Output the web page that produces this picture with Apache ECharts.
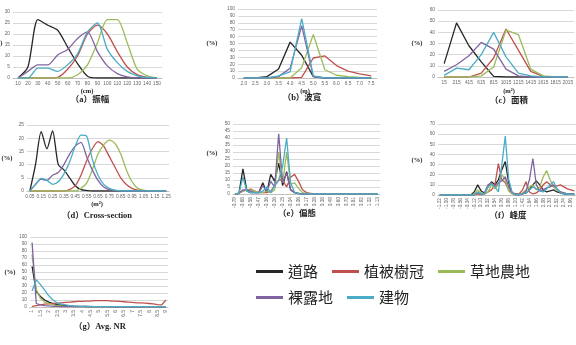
<!DOCTYPE html>
<html>
<head>
<meta charset="utf-8">
<script src="https://cdn.jsdelivr.net/npm/echarts@6/dist/echarts.min.js"></script>
<style>
  html, body { margin: 0; padding: 0; background: #fff; }
  #chart { width: 576px; height: 345px; }
</style>
</head>
<body>
<div id="chart"></div>
<script>
// class names + colours (excel-ish palette)
const names = ['道路', '植被樹冠', '草地農地', '裸露地', '建物']
const colors = ['#262626', '#c0504d', '#9bbb59', '#8064a2', '#4bacc6']

// (a) 振幅
const aCats = ['10','20','30','40','50','60','70','80','90','100','110','120','130','140','150']
const aRoad   = [0,5,26.5,24,21.7,14,6.5,0.8,0,0,0,0,0,0,0]
const aCanopy = [0,0,0,0,0.3,4,10,20,24,20,12,5,1.5,0.3,0]
const aGrass  = [0,0,0,0,0,0,1.5,6,16,26.5,26.5,16,4,1,0]
const aBare   = [0,3,6,6,10.5,13,18,21,12,5.5,2,0.5,0,0,0]
const aBuild  = [0,0,4.5,4.5,3,6,11,21,25,13,7,3,1,0.3,0]

// (b) 波寬
const bCats = ['2.0','2.5','3.0','3.5','4.0','4.5','5.0','5.5','6.0','6.5','7.0','7.5']
const bRoad   = [0,0,2,13,52,33,2,0,0,0,0,0]
const bCanopy = [0,0,0,0,0,1,29,32,18,10,6,3]
const bGrass  = [0,0,0,0,0,15,63,12,4,2,1,0]
const bBare   = [0,0,0,2,14,76,2,0,0,0,0,0]
const bBuild  = [0,0,0,3,9,86,3,0,0,0,0,0]

// (c) 面積
const cCats = ['15','215','415','615','815','1015','1215','1415','1615','1815','2015']
const cRoad   = [12,48.5,28,13.5,0.6,0,0,0,0,0,0]
const cCanopy = [0,0,0,3.5,17,43,24,5,0.5,0,0]
const cGrass  = [0,0,0,1,9,42,38,7,1,0,0]
const cBare   = [5,11,19,31,25,7,1,0,0,0,0]
const cBuild  = [1.5,8,6.5,20,40,18,3.5,1,0,0,0]

// (d) Cross-section
const dCats = ['0.05','0.10','0.15','0.20','0.25','0.30','0.35','0.40','0.45','0.50','0.55','0.60','0.65',
  '0.70','0.75','0.80','0.85','0.90','0.95','1.00','1.05','1.10','1.15','1.20','1.25']
const dRoad   = [0,10,22.5,16,22.8,10,8,5,2,0.5,0.2,0,0,0,0,0,0,0,0,0,0,0,0,0,0]
const dCanopy = [0,0,0,0,0,0,0,0.5,2,6,11.5,16,18.7,17,13,9,5,2.5,1,0.3,0,0,0,0,0]
const dGrass  = [0,0,0,0,0,0,0,0,0,1,3,8,14,17.5,19.3,18,14,8,3.5,1,0.3,0,0,0,0]
const dBare   = [0,2.5,4.5,4,6,7,10,14,17,18.4,13,8,4,1.5,0.5,0.2,0,0,0,0,0,0,0,0,0]
const dBuild  = [0,2.5,4.8,4,2.5,3.5,6.5,11,17,21.2,20.8,12,6,2.5,1,0.3,0,0,0,0,0,0,0,0,0]

// (e) 偏態
const eCats = ['-0.79','-0.74','-0.68','-0.63','-0.58','-0.52','-0.47','-0.42','-0.36','-0.31',
  '-0.26','-0.20','-0.15','-0.10','-0.04','0.01','0.06','0.12','0.17','0.22',
  '0.28','0.33','0.38','0.44','0.49','0.54','0.60','0.65','0.70','0.76',
  '0.81','0.86','0.92','0.97','1.02','1.08','1.13']
const eRoad   = [0,0.5,18,2,1,1,1,8,1,14,9,22,6,16,3,1,0.5,0,0,0,0,0,0,0,0,0,0,0,0,0,0,0,0,0,0,0,0]
const eCanopy = [0,0.5,2,3,3.5,2,1,1,1,2,6,10,10,5,12,14,9,3,1,0.5,0,0,0,0,0,0,0,0,0,0,0,0,0,0,0,0,0]
const eGrass  = [0,1,2,3,3,2,1,1,2,1,3,30,8,30,7,8,4,1,0.3,0,0,0,0,0,0,0,0,0,0,0,0,0,0,0,0,0,0]
const eBare   = [0,0.5,3,3,2,1,1,6,2,9,5,43,8,15,3,1,0.3,0,0,0,0,0,0,0,0,0,0,0,0,0,0,0,0,0,0,0,0]
const eBuild  = [0,0.5,12,2,1,1,1,2,5,1,6,10,20,40,8,1,0.3,0,0,0,0,0,0,0,0,0,0,0,0,0,0,0,0,0,0,0,0]

// (f) 峰度
const fCats = ['-1.22','-1.11','-1.00','-0.89','-0.78','-0.67','-0.56','-0.45','-0.34','-0.23',
  '-0.12','-0.01','0.10','0.21','0.32','0.43','0.54','0.65','0.76','0.87',
  '0.98','1.09','1.20','1.31','1.42','1.53','1.64','1.75','1.86','1.97',
  '2.08','2.19','2.30','2.41','2.52','2.63','2.74','2.85','2.96','3.07']
const fRoad   = [0,0,0,0,0,0,0,0,0,0,3,10,4,2,8,13,10,15,25,33,12,2,1,0.5,1,2,5,10,14,10,5,3,4,5,3,2,1,1,1,1]
const fCanopy = [0,0,0,0,0,0,0,0,0,0,0,1,0,1,3,5,10,31,15,12,5,2,0.5,1,5,13,3,1,2,5,10,13,10,8,9,10,8,6,5,4]
const fGrass  = [0,0,0,0,0,0,0,0,0,0,1,5,2,1,3,10,6,10,20,15,4,1,0,0.5,2,5,8,10,5,8,18,24,15,8,5,3,2,1,1,0.5]
const fBare   = [0,0,0,0,0,0,0,0,0,0,0,2,1,2,10,12,8,12,14,18,8,2,0,0,1,4,15,36,10,4,5,7,8,10,6,3,2,1,1,0.5]
const fBuild  = [0,0,0,0,0,0,0,0,0,0,0,3,1,1,8,11,8,3,30,58,15,2,0.5,0,1,2,5,8,6,4,3,6,10,13,6,2,1,1,0.5,0.5]

// (g) Avg. NR
const gCats = ['1','1.25','1.5','1.75','2','2.25','2.5','2.75','3','3.25','3.5','3.75','4','4.25','4.5','4.75',
  '5','5.25','5.5','5.75','6','6.25','6.5','6.75','7','7.25','7.5','7.75','8','8.25','8.5','8.75','9']
const gRoad   = [58,22,15,10,7,5,3.5,2.5,2,1.5,1.2,1,0.8,0.7,0.6,0.5,0.5,0.4,0.4,0.3,0.3,0.3,0.2,0.2,0.2,0.2,0.1,0.1,0.1,0.1,0.1,0.1,0.1]
const gCanopy = [1,2,3,4,4.5,5,5.5,6,6.5,7,7.5,8,8,8.5,8.5,9,9,9,9,8.5,8.5,8,7.5,7,6.5,6,6,5.5,5,4.5,3.5,3,10]
const gGrass  = [75,25,12,7,5,3,2,1.5,1,0.8,0.6,0.5,0.4,0.3,0.3,0.2,0.2,0.2,0.1,0.1,0.1,0.1,0.1,0.1,0.1,0,0,0,0,0,0,0,0]
const gBare   = [92,5,3,2,1.5,1,0.8,0.6,0.5,0.4,0.3,0.3,0.2,0.2,0.2,0.1,0.1,0.1,0.1,0.1,0,0,0,0,0,0,0,0,0,0,0,0,0]
const gBuild  = [23,39,32,24,16,10,6,4,3,2,1.5,1.2,1,0.8,0.7,0.6,0.5,0.5,0.5,0.5,0.5,0.5,0.5,0.5,0.5,0.5,0.5,0.5,0.5,0.5,0.5,0.5,0.5]

// panel layout: grid box, y max/step, label interval, rotate, smooth
const panels = [
  { box: {left: 13, top: 12, width: 149, height: 66}, cats: aCats, data: [aRoad, aCanopy, aGrass, aBare, aBuild], max: 30, step: 5, every: 0, rot: 0, smooth: 0.25 },
  { box: {left: 238, top: 9, width: 139, height: 69}, cats: bCats, data: [bRoad, bCanopy, bGrass, bBare, bBuild], max: 100, step: 10, every: 0, rot: 0, smooth: false },
  { box: {left: 438, top: 10, width: 140, height: 67}, cats: cCats, data: [cRoad, cCanopy, cGrass, cBare, cBuild], max: 60, step: 10, every: 0, rot: 0, smooth: false },
  { box: {left: 27, top: 125, width: 142, height: 66}, cats: dCats, data: [dRoad, dCanopy, dGrass, dBare, dBuild], max: 25, step: 5, every: 1, rot: 0, smooth: 0.25 },
  { box: {left: 233, top: 124, width: 147, height: 70}, cats: eCats, data: [eRoad, eCanopy, eGrass, eBare, eBuild], max: 50, step: 5, every: 1, rot: 90, smooth: false },
  { box: {left: 438, top: 124, width: 155, height: 71}, cats: fCats, data: [fRoad, fCanopy, fGrass, fBare, fBuild], max: 70, step: 10, every: 1, rot: 90, smooth: false },
  { box: {left: 30, top: 237, width: 138, height: 70}, cats: gCats, data: [gRoad, gCanopy, gGrass, gBare, gBuild], max: 100, step: 10, every: 1, rot: 90, smooth: false }
]

const tickFont = { fontSize: 4.8, color: '#666', fontFamily: '"Liberation Sans Narrow", "Liberation Sans", sans-serif' }

const grid = panels.map(p => Object.assign({ containLabel: false }, p.box))
const xAxis = panels.map((p, i) => ({
  type: 'category', gridIndex: i, data: p.cats, boundaryGap: true,
  axisLine: { lineStyle: { color: '#bfbfbf' } },
  axisTick: { show: false },
  axisLabel: Object.assign({ interval: p.every, rotate: p.rot, margin: 3, hideOverlap: false }, tickFont),
  splitLine: { show: false }
}))
const yAxis = panels.map((p, i) => ({
  type: 'value', gridIndex: i, min: 0, max: p.max, interval: p.step,
  axisLine: { show: false }, axisTick: { show: false },
  splitLine: { lineStyle: { color: '#d9d9d9', width: 1 } },
  axisLabel: Object.assign({ margin: 3 }, tickFont)
}))

const series = []
panels.forEach((p, i) => {
  p.data.forEach((d, k) => {
    series.push({
      name: names[k], type: 'line', xAxisIndex: i, yAxisIndex: i,
      data: d, symbol: 'none', smooth: p.smooth,
      lineStyle: { width: 1.3, color: colors[k] },
      itemStyle: { color: colors[k] }
    })
  })
})

// small text: titles, axis units, (%)
const titleFont = '"Liberation Serif", "Noto Sans CJK TC", serif'
function label(text, x, y, size, bold) {
  return {
    type: 'text', silent: true,
    style: { text, x, y, align: 'center', verticalAlign: 'middle', fontSize: size,
      fontFamily: titleFont, fontWeight: bold ? 'bold' : 'normal', fill: '#222' }
  }
}
const graphic = [
  label('（a）振幅', 90, 100, 8.5, true),
  label('（b）波寬', 302, 98, 8.5, true),
  label('（c）面積', 509, 101, 8.5, true),
  label('（d）Cross-section', 97, 216, 8.5, true),
  label('（e）偏態', 297, 214, 8.5, true),
  label('（f）峰度', 508, 216, 8.5, true),
  label('（g）Avg. NR', 100, 327, 8.5, true),
  label('(cm)', 87, 91, 6.5, true),
  label('(m)', 305, 91, 6.5, true),
  label('(m²)', 509, 91, 6.5, true),
  label('(m²)', 97, 204, 6.5, true),
  label('(%)', -3, 43, 6.5, true),
  label('(%)', 212, 43, 6.5, true),
  label('(%)', 417, 43, 6.5, true),
  label('(%)', 7, 158, 6.5, true),
  label('(%)', 212, 153, 6.5, true),
  label('(%)', 417, 160, 6.5, true),
  label('(%)', 10, 272, 6.5, true)
]

const legendBase = {
  left: 256, padding: 0, icon: 'rect', itemWidth: 27, itemHeight: 3, itemGap: 14,
  selectedMode: false,
  textStyle: { fontSize: 15, fontFamily: 'Noto Sans CJK TC', color: '#222' }
}

const chart = echarts.init(document.getElementById('chart'), null, { renderer: 'canvas' })
chart.setOption({
  animation: false,
  backgroundColor: '#fff',
  grid, xAxis, yAxis, series, graphic,
  legend: [
    Object.assign({}, legendBase, { top: 264, data: names.slice(0, 3) }),
    Object.assign({}, legendBase, { top: 290, data: names.slice(3) })
  ]
})
</script>
</body>
</html>
